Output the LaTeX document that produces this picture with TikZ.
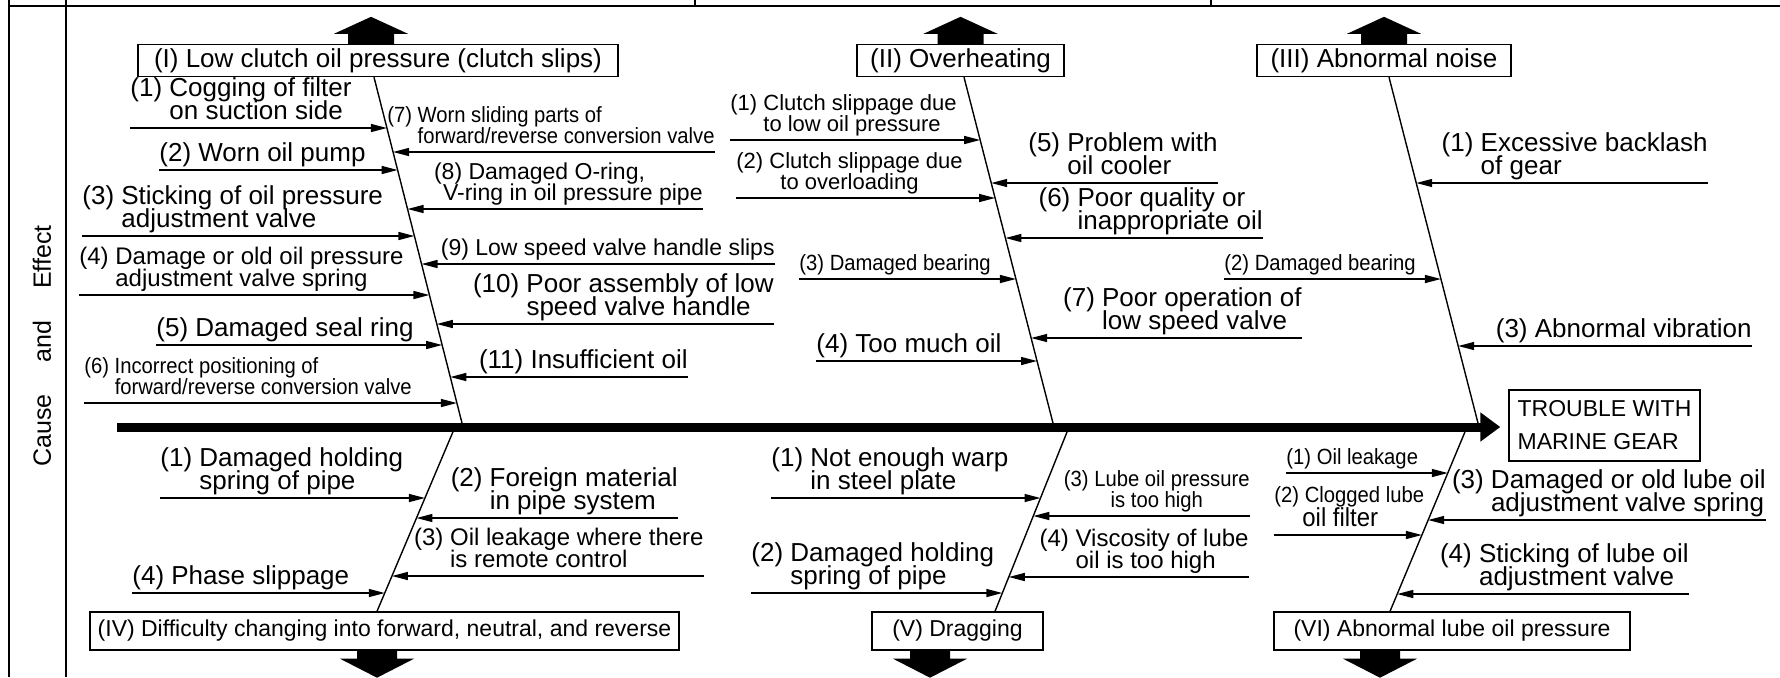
\documentclass[tikz,border=0pt]{standalone}
\usepackage{fontspec}
\setmainfont{Liberation Sans}
\newfontfamily\condfam[FakeStretch=0.92]{Liberation Sans}
\usetikzlibrary{arrows.meta,calc}

\newcommand\lgfont{\fontsize{13}{11.4}\selectfont\lineskiplimit=-20pt\relax}
\newcommand\mdfont{\fontsize{12}{11.2}\selectfont\lineskiplimit=-20pt\relax}
\newcommand\enfont{\fontsize{11.5}{10.6}\selectfont\lineskiplimit=-20pt\relax}
\newcommand\bxfont{\fontsize{11.5}{12}\selectfont}
\newcommand\snfont{\fontsize{11}{10.4}\selectfont\lineskiplimit=-20pt\relax}
\newcommand\smfont{\condfam\fontsize{11}{10.4}\selectfont\lineskiplimit=-20pt\relax}
\newcommand\hg[1]{\phantom{#1\ }}
% cause arrow: from a label anchor, level, to the slanted bone (top, foot)
\newcommand\twig[3]{%
  \draw[arr] let \p1=(#1), \p2=(#2), \p3=(#3) in
    (\p1) -- ({\x2+(\x3-\x2)*(((\y1)-(\y2))/((\y3)-(\y2)))},\y1);}

\begin{document}
\begin{tikzpicture}[x=0.5pt,y=-0.5pt,
  cat/.style={draw,line width=0.7pt,inner sep=0pt,minimum height=16pt,font=\lgfont},
  low/.style={cat,font=\bxfont,minimum height=19pt},
  lbl/.style={inner xsep=0pt,inner ysep=1pt,text depth=3pt,align=left,font=\lgfont},
  lt/.style={lbl,anchor=south west},
  rt/.style={lbl,anchor=south east},
  arr/.style={-{Triangle[length=8pt,width=4pt]},line width=0.7pt},
  bone/.style={line width=0.7pt},
  spine/.style={-{Triangle[length=10pt,width=14pt]},line width=4.5pt},
  bigup/.pic={\fill (-23,0) -- (-23,-10) -- (-37,-10) -- (0,-27) -- (37,-10) -- (23,-10) -- (23,0) -- cycle;},
  bigdown/.pic={\fill (-20,0) -- (-20,8) -- (-37,8) -- (0,27) -- (37,8) -- (20,8) -- (20,0) -- cycle;}]
\useasboundingbox (0,0) rectangle (1780,677);
% frame
\draw[line width=0.7pt] (9,0) -- (9,677) (66,0) -- (66,677) (9,6) -- (1780,6)
  (695,0) -- (695,6) (1211,0) -- (1211,6);
\node[rotate=90,font=\fontsize{12.5}{14}\selectfont] (side) at (42,346) {Cause\hspace{16pt}and\hspace{16pt}Effect};

% effect groups
\node[cat,minimum width=240pt] (cI) at (378,60.5) {(I) Low clutch oil pressure (clutch slips)};
\node[cat,minimum width=103.5pt] (cII) at (960.5,60.5) {(II) Overheating};
\node[cat,minimum width=127pt] (cIII) at (1384,60.5) {(III) Abnormal noise};
\node[low,minimum width=294.5pt] (cIV) at (384.5,631) {(IV) Difficulty changing into forward, neutral, and reverse};
\node[low,minimum width=85.5pt] (cV) at (957.5,631) {(V) Dragging};
\node[low,minimum width=178pt] (cVI) at (1452,631) {(VI) Abnormal lube oil pressure};
\node[cat,font=\fontsize{11.5}{16.5}\selectfont,align=left,minimum width=95.5pt,minimum height=35.5pt] (gear) at (1604.5,425.5) {TROUBLE WITH\\MARINE GEAR};

\pic at ([xshift=-3.5pt]cI.north) {bigup};
\pic at (cII.north) {bigup};
\pic at (cIII.north) {bigup};
\pic at ([xshift=-3.75pt]cIV.south) {bigdown};
\pic at ([xshift=-13.75pt]cV.south) {bigdown};
\pic at ([xshift=-36pt]cVI.south) {bigdown};

% spine and bones
\coordinate (tail) at (117,427);
\draw[spine,shorten >=4pt] (tail) -- (tail -| gear.west);
\coordinate (hI) at ([xshift=-2pt]cI.south);
\coordinate (fI) at (463,427);
\coordinate (hII) at ([xshift=1.75pt]cII.south);
\coordinate (fII) at (1054,427);
\coordinate (hIII) at ([xshift=2.5pt]cIII.south);
\coordinate (fIII) at (1479,427);
\coordinate (hIV) at ([xshift=-3.75pt]cIV.north);
\coordinate (fIV) at (455,427);
\coordinate (hV) at ([xshift=18.75pt]cV.north);
\coordinate (fV) at (1069,427);
\coordinate (hVI) at ([xshift=-31pt]cVI.north);
\coordinate (fVI) at (1467,427);
\draw[bone] (hI) -- (fI);
\draw[bone] (hII) -- (fII);
\draw[bone] (hIII) -- (fIII);
\draw[bone] (hIV) -- (fIV);
\draw[bone] (hV) -- (fV);
\draw[bone] (hVI) -- (fVI);

% (I) causes
\node[lt] (I1) at (130,128) {(1) Cogging of filter\\\hg{(1)}on suction side};
\node[lt] (I2) at (159,170) {(2) Worn oil pump};
\node[lt] (I3) at (82,236) {(3) Sticking of oil pressure\\\hg{(3)}adjustment valve};
\node[lt,font=\mdfont] (I4) at (79,295) {(4) Damage or old oil pressure\\\hg{(4)}adjustment valve spring};
\node[lt] (I5) at (156,345) {(5) Damaged seal ring};
\node[lt,font=\smfont] (I6) at (84,403) {(6) Incorrect positioning of\\\hg{(6)}forward/reverse conversion valve};
\node[rt,font=\smfont] (I7) at (715,152) {(7) Worn sliding parts of\\\hg{(7)}forward/reverse conversion valve};
\node[rt,font=\enfont] (I8) at (703,209) {(8) Damaged O-ring,\\\hspace*{4.5pt}V-ring in oil pressure pipe};
\node[rt,font=\enfont] (I9) at (775,264) {(9) Low speed valve handle slips};
\node[rt] (I10) at (774,324) {(10) Poor assembly of low\\\hg{(10)}speed valve handle};
\node[rt] (I11) at (688,377) {(11) Insufficient oil};
\twig{I1.south west}{hI}{fI}
\twig{I2.south west}{hI}{fI}
\twig{I3.south west}{hI}{fI}
\twig{I4.south west}{hI}{fI}
\twig{I5.south west}{hI}{fI}
\twig{I6.south west}{hI}{fI}
\twig{I7.south east}{hI}{fI}
\twig{I8.south east}{hI}{fI}
\twig{I9.south east}{hI}{fI}
\twig{I10.south east}{hI}{fI}
\twig{I11.south east}{hI}{fI}

% (II) causes
\node[lt,font=\snfont] (II1) at (730,140) {(1) Clutch slippage due\\\hg{(1)}to low oil pressure};
\node[lt,font=\snfont,align=center] (II2) at (736,198) {(2) Clutch slippage due\\to overloading};
\node[lt,font=\smfont] (II3) at (799,279) {(3) Damaged bearing};
\node[lt] (II4) at (816,361) {(4) Too much oil};
\node[rt] (II5) at (1218,183) {(5) Problem with\\\hg{(5)}oil cooler};
\node[rt] (II6) at (1263,238) {(6) Poor quality or\\\hg{(6)}inappropriate oil};
\node[rt] (II7) at (1302,338) {(7) Poor operation of\\\hg{(7)}low speed valve};
\twig{II1.south west}{hII}{fII}
\twig{II2.south west}{hII}{fII}
\twig{II3.south west}{hII}{fII}
\twig{II4.south west}{hII}{fII}
\twig{II5.south east}{hII}{fII}
\twig{II6.south east}{hII}{fII}
\twig{II7.south east}{hII}{fII}

% (III) causes
\node[rt] (III1) at (1708,183) {(1) Excessive backlash\\\hg{(1)}of gear};
\node[lt,font=\smfont] (III2) at (1224,279) {(2) Damaged bearing};
\node[rt] (III3) at (1752,346) {(3) Abnormal vibration};
\twig{III1.south east}{hIII}{fIII}
\twig{III2.south west}{hIII}{fIII}
\twig{III3.south east}{hIII}{fIII}

% (IV) causes
\node[lt] (IV1) at (160,498) {(1) Damaged holding\\\hg{(1)}spring of pipe};
\node[rt] (IV2) at (678,518) {(2) Foreign material\\\hg{(2)}in pipe system};
\node[rt,font=\mdfont] (IV3) at (704,576) {(3) Oil leakage where there\\\hg{(3)}is remote control};
\node[lt] (IV4) at (132,593) {(4) Phase slippage};
\twig{IV1.south west}{fIV}{hIV}
\twig{IV2.south east}{fIV}{hIV}
\twig{IV3.south east}{fIV}{hIV}
\twig{IV4.south west}{fIV}{hIV}

% (V) causes
\node[lt] (V1) at (771,498) {(1) Not enough warp\\\hg{(1)}in steel plate};
\node[lt] (V2) at (751,593) {(2) Damaged holding\\\hg{(2)}spring of pipe};
\node[rt,font=\smfont,align=center] (V3) at (1250,516) {(3) Lube oil pressure\\is too high};
\node[rt,font=\mdfont] (V4) at (1249,577) {(4) Viscosity of lube\\\hg{(4)}oil is too high};
\twig{V1.south west}{fV}{hV}
\twig{V2.south west}{fV}{hV}
\twig{V3.south east}{fV}{hV}
\twig{V4.south east}{fV}{hV}

% (VI) causes
\node[lt,font=\smfont] (VI1) at (1286,473) {(1) Oil leakage};
\node[lt,font=\smfont] (VI2) at (1274,535) {(2) Clogged lube\\[1.5pt]\hspace*{14pt}{\lgfont oil filter}};
\node[rt] (VI3) at (1766,520) {(3) Damaged or old lube oil\\\hg{(3)}adjustment valve spring};
\node[rt] (VI4) at (1689,594) {(4) Sticking of lube oil\\\hg{(4)}adjustment valve};
\twig{VI1.south west}{fVI}{hVI}
\twig{VI2.south west}{fVI}{hVI}
\twig{VI3.south east}{fVI}{hVI}
\twig{VI4.south east}{fVI}{hVI}
\end{tikzpicture}
\end{document}
